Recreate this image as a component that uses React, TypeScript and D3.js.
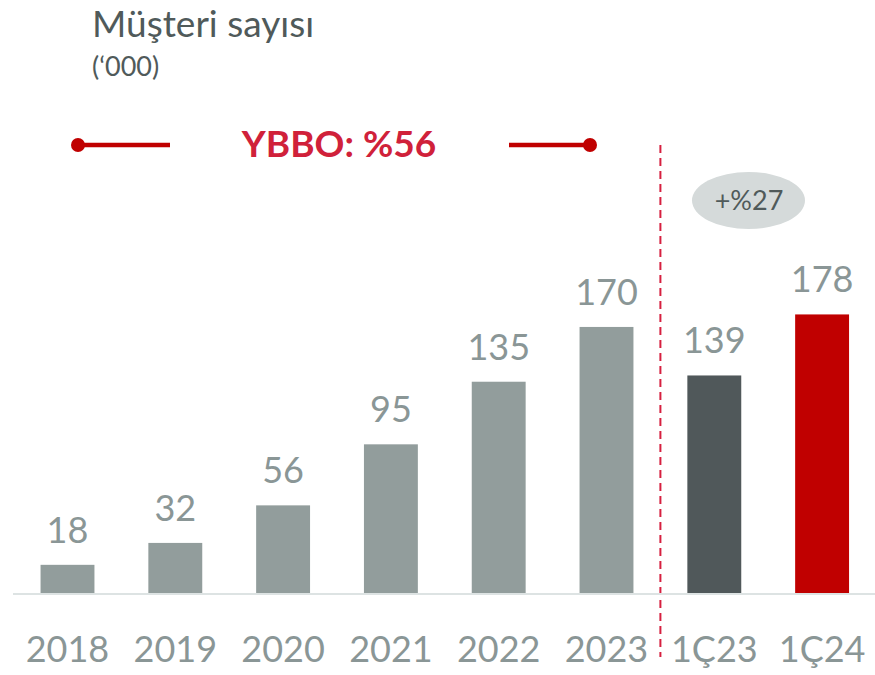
import React from "react";
import * as d3 from "d3";

const categories = ["2018", "2019", "2020", "2021", "2022", "2023", "1Ç23", "1Ç24"];
const values = [18, 32, 56, 95, 135, 170, 139, 178];
const barColors = ["#929d9c", "#929d9c", "#929d9c", "#929d9c", "#929d9c", "#929d9c", "#50585a", "#c00000"];
const title = "Müşteri sayısı";
const subtitle = "(‘000)";
const cagrLabel = "YBBO: %56";
const growthLabel = "+%27";

const W = 875;
const H = 675;
const FONT = "Lato, 'Open Sans', sans-serif";

export default function App() {
  const x = d3.scaleBand<string>().domain(categories).range([13.6, 13.6 + 8 * 107.8]).paddingInner(0.5).paddingOuter(0.25);
  const y = d3.scaleLinear().domain([0, 200]).range([593, 593 - 313]);
  const bw = x.bandwidth();
  const dividerX = ((x("2023") as number) + bw + (x("1Ç23") as number)) / 2;

  return (
    <svg width={W} height={H} style={{ position: "absolute", left: 0, top: 0, background: "#fff" }} fontFamily={FONT}>
      <text x={92} y={37} fontSize={37} fill="#505a5a">{title}</text>
      <text x={92} y={76} fontSize={27} fill="#505a5a">{subtitle}</text>

      {/* CAGR line */}
      <line x1={78} x2={170} y1={145} y2={145} stroke="#c00000" strokeWidth={4.5} />
      <circle cx={78} cy={145} r={7} fill="#c00000" />
      <line x1={509} x2={590} y1={145} y2={145} stroke="#c00000" strokeWidth={4.5} />
      <circle cx={590} cy={145} r={7} fill="#c00000" />
      <text x={339} y={157} fontSize={37} fontWeight={700} fill="#d0213a" textAnchor="middle">{cagrLabel}</text>

      {/* divider */}
      <line x1={dividerX} x2={dividerX} y1={145} y2={657} stroke="#d62040" strokeWidth={2} strokeDasharray="8 5" />

      {/* growth bubble */}
      <ellipse cx={748.5} cy={200.5} rx={56.5} ry={28.5} fill="#d5dada" />
      <text x={749} y={210} fontSize={27} fill="#505a5a" textAnchor="middle">{growthLabel}</text>

      {/* bars */}
      {categories.map((c, i) => (
        <g key={c}>
          <rect x={x(c)} y={y(values[i])} width={bw} height={y(0) - y(values[i])} fill={barColors[i]} />
          <text x={(x(c) as number) + bw / 2} y={y(values[i]) - 22} fontSize={36} fill="#8a9696" textAnchor="middle">{values[i]}</text>
          <text x={(x(c) as number) + bw / 2} y={662} fontSize={36} fill="#8a9696" textAnchor="middle">{c}</text>
        </g>
      ))}

      {/* baseline */}
      <line x1={13} x2={875} y1={594} y2={594} stroke="#dde3e3" strokeWidth={2} />
    </svg>
  );
}
